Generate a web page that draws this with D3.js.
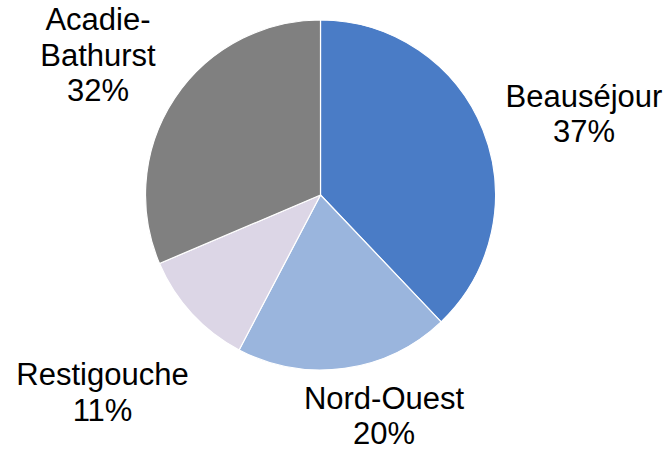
<!DOCTYPE html>
<html>
<head>
<meta charset="utf-8">
<script src="https://cdn.jsdelivr.net/npm/d3@7"></script>
<style>
  html, body { margin: 0; padding: 0; background: #fff; }
  svg { display: block; }
  text { font-family: "Liberation Sans", Arial, sans-serif; fill: #000; }
</style>
</head>
<body>
<svg id="chart" width="669" height="450"></svg>
<script>
// Data
const categories = ["Beauséjour", "Nord-Ouest", "Restigouche", "Acadie-Bathurst"];
const values = [37.9, 19.8, 10.9, 31.4];
const percentLabels = ["37%", "20%", "11%", "32%"];
const colors = ["#4A7CC6", "#9AB5DD", "#DCD6E6", "#808080"];
// Label text lines (name split as in the reference)
const labelLines = [["Beauséjour"], ["Nord-Ouest"], ["Restigouche"], ["Acadie-", "Bathurst"]];

// Layout
const W = 669, H = 450;
const cx = 320.5, cy = 195, radius = 175;
const fontSize = 31, lineH = 35.5;
// label anchor (center x, first baseline y)
const labelPos = [[584, 106.5], [384, 408.5], [102.5, 385], [98, 30]];

const svg = d3.select("#chart");
const g = svg.append("g").attr("transform", `translate(${cx},${cy})`);

const pie = d3.pie().sort(null).value(d => d);
const arcs = pie(values);
const arc = d3.arc().innerRadius(0).outerRadius(radius);

g.selectAll("path.slice")
  .data(arcs)
  .join("path")
  .attr("class", "slice")
  .attr("d", arc)
  .attr("fill", (d, i) => colors[i])
  .attr("stroke", "#fff")
  .attr("stroke-width", 1.2)
  .attr("stroke-linejoin", "round");

const labels = svg.selectAll("text.lbl")
  .data(categories)
  .join("text")
  .attr("class", "lbl")
  .attr("text-anchor", "middle")
  .attr("font-size", fontSize)
  .attr("x", (d, i) => labelPos[i][0])
  .attr("y", (d, i) => labelPos[i][1]);

labels.each(function(d, i) {
  const t = d3.select(this);
  const lines = labelLines[i].concat([percentLabels[i]]);
  lines.forEach((ln, j) => {
    t.append("tspan")
      .attr("x", labelPos[i][0])
      .attr("dy", j === 0 ? 0 : lineH)
      .text(ln);
  });
});
</script>
</body>
</html>
